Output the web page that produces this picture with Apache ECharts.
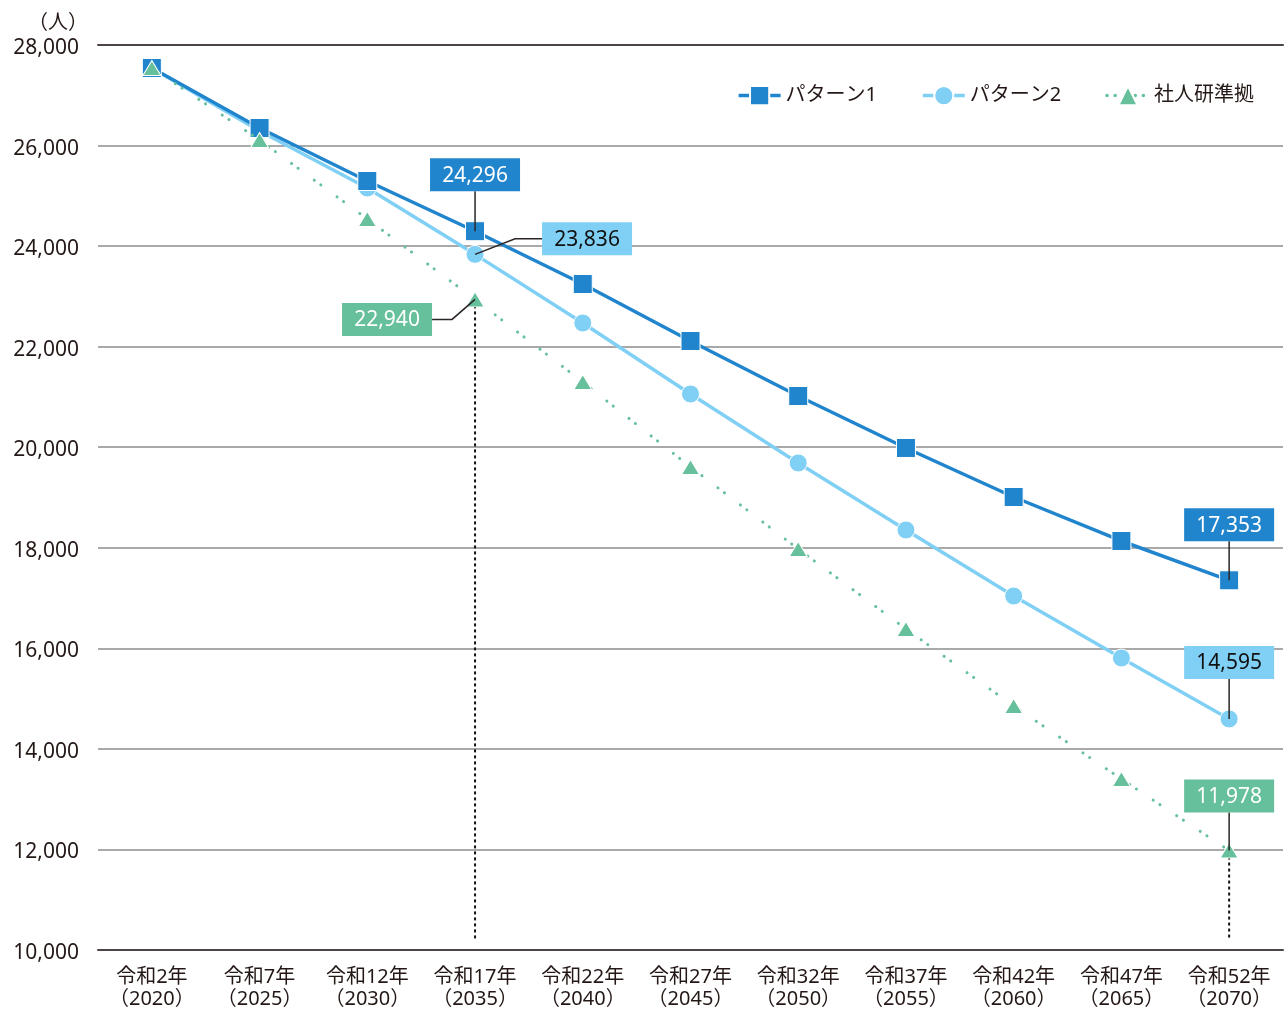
<!DOCTYPE html>
<html>
<head>
<meta charset="utf-8">
<style>
  html, body { margin: 0; padding: 0; background: #fff; }
  #chart { width: 1285px; height: 1010px; }
</style>
<script src="https://cdn.jsdelivr.net/npm/echarts@6/dist/echarts.min.js"></script>
</head>
<body>
<div id="chart"></div>
<script>
// Projected population (persons), every five years 2020–2070
const categories = [
  '令和2年\n（2020）', '令和7年\n（2025）', '令和12年\n（2030）', '令和17年\n（2035）',
  '令和22年\n（2040）', '令和27年\n（2045）', '令和32年\n（2050）', '令和37年\n（2055）',
  '令和42年\n（2060）', '令和47年\n（2065）', '令和52年\n（2070）'
];
const pattern1 = [27543, 26349, 25295, 24296, 23246, 22113, 21019, 19985, 19010, 18135, 17353];
const pattern2 = [27543, 26290, 25156, 23836, 22471, 21059, 19687, 18354, 17041, 15808, 14595];
const ipss     = [27543, 26110, 24539, 22940, 21297, 19607, 17976, 16385, 14853, 13401, 11978];

const seriesNames = ['パターン1', 'パターン2', '社人研準拠'];
const yTicks = { min: 10000, max: 28000, step: 2000 };

const FONT = '"Noto Sans", "Noto Sans CJK JP", sans-serif';
const C1 = '#2185cd';
const C2 = '#80d0f5';
const C3 = '#66c09b';
const TEXT = '#231815';

// Value callouts: which series/point, and where the box sits relative to the point
const values = { p1: pattern1, p2: pattern2, ss: ipss };
const calloutDefs = [
  { key: 'p1', idx: 3,  dx: 0,    dy: -56.5, leader: 'down',  fill: C1, color: '#fff' },
  { key: 'p2', idx: 3,  dx: 112,  dy: -15.5, leader: 'left',  fill: C2, color: '#111' },
  { key: 'ss', idx: 3,  dx: -88,  dy: 20,    leader: 'right', fill: C3, color: '#fff' },
  { key: 'p1', idx: 10, dx: 0,    dy: -55.5, leader: 'down',  fill: C1, color: '#fff' },
  { key: 'p2', idx: 10, dx: 0,    dy: -56.5, leader: 'down',  fill: C2, color: '#111' },
  { key: 'ss', idx: 10, dx: 0,    dy: -54.5, leader: 'down',  fill: C3, color: '#fff' }
];
const calloutData = calloutDefs.map(d => [d.idx, values[d.key][d.idx]]);

// Drop lines from the IPSS-based points
const dropIdx = [3, 10];
const dropData = dropIdx.map(i => [i, ipss[i]]);

const BOX_W = 90, BOX_H = 33;

function renderCallout(params, api) {
  const d = calloutDefs[params.dataIndex];
  const p = api.coord([api.value(0), api.value(1)]);
  const cx = p[0] + d.dx, cy = p[1] + d.dy;
  let pts;
  if (d.leader === 'down') {
    pts = [[p[0], cy + BOX_H / 2], [p[0], p[1]]];
  } else if (d.leader === 'left') {
    pts = [[cx - BOX_W / 2, cy], [p[0] + 40, cy], [p[0], p[1]]];
  } else {
    pts = [[cx + BOX_W / 2, cy], [p[0] - 23, cy], [p[0], p[1]]];
  }
  return {
    type: 'group',
    children: [
      { type: 'polyline', shape: { points: pts },
        style: { stroke: '#2b2525', lineWidth: 1.5, fill: null } },
      { type: 'rect', shape: { x: cx - BOX_W / 2, y: cy - BOX_H / 2, width: BOX_W, height: BOX_H },
        style: { fill: d.fill } },
      { type: 'text', x: cx, y: cy + 1,
        style: { text: api.value(1).toLocaleString('en-US'), fill: d.color,
                 font: '21px ' + FONT, align: 'center', verticalAlign: 'middle' } }
    ]
  };
}

function renderDrop(params, api) {
  const p = api.coord([api.value(0), api.value(1)]);
  const b = api.coord([api.value(0), yTicks.min]);
  return {
    type: 'line',
    shape: { x1: p[0], y1: p[1], x2: b[0], y2: b[1] - 10 },
    style: { stroke: '#111', lineWidth: 2, lineDash: [3, 3] }
  };
}

const chart = echarts.init(document.getElementById('chart'), null, { renderer: 'canvas' });
chart.setOption({
  animation: false,
  backgroundColor: '#fff',
  grid: { left: 98, right: 2, top: 45, bottom: 60, containLabel: false, outerBoundsMode: 'none' },
  legend: {
    data: seriesNames,
    right: 26, top: 80,
    itemWidth: 42, itemHeight: 24, itemGap: 44,
    lineStyle: { width: 3.5 },
    textStyle: { fontFamily: FONT, fontSize: 20, color: TEXT }
  },
  xAxis: [{
    type: 'category',
    data: categories,
    boundaryGap: true,
    axisLine: { lineStyle: { color: '#4d4444', width: 2 } },
    axisTick: { show: false },
    axisLabel: { interval: 0, margin: 16, fontFamily: FONT, fontSize: 20, lineHeight: 22, color: TEXT }
  }, {
    type: 'category',
    data: categories,
    position: 'top',
    axisLine: { lineStyle: { color: '#4d4444', width: 2 } },
    axisTick: { show: false },
    axisLabel: { show: false }
  }],
  yAxis: {
    type: 'value',
    min: yTicks.min, max: yTicks.max, interval: yTicks.step,
    name: '（人）',
    nameLocation: 'end',
    nameGap: 12,
    nameTextStyle: { fontFamily: FONT, fontSize: 20, color: TEXT, align: 'right', padding: [0, 10, 0, 0] },
    axisLine: { show: false },
    axisTick: { show: false },
    axisLabel: { margin: 19, fontFamily: FONT, fontSize: 21, color: TEXT,
                 verticalAlign: 'top', lineHeight: 6,
                 formatter: v => v.toLocaleString('en-US') },
    splitLine: { lineStyle: { color: '#8c8c8c', width: 1.5 } }
  },
  series: [
    {
      type: 'custom', name: 'drop', renderItem: renderDrop, data: dropData,
      z: 1, silent: true, legendHoverLink: false
    },
    {
      name: seriesNames[1], type: 'line', data: pattern2, z: 2,
      symbol: 'circle', symbolSize: 18,
      itemStyle: { color: C2, borderColor: '#fff', borderWidth: 1 },
      lineStyle: { color: C2, width: 3.5 }
    },
    {
      name: seriesNames[0], type: 'line', data: pattern1, z: 3,
      symbol: 'rect', symbolSize: 19,
      itemStyle: { color: C1, borderColor: '#fff', borderWidth: 1 },
      lineStyle: { color: C1, width: 3.5 }
    },
    {
      name: seriesNames[2], type: 'line', data: ipss, z: 4,
      symbol: 'triangle', symbolSize: [18, 15],
      itemStyle: { color: C3, borderColor: '#fff', borderWidth: 1 },
      lineStyle: { color: C3, width: 3, type: [0.1, 8, 0.1, 20], cap: 'round' }
    },
    {
      type: 'custom', name: 'callouts', renderItem: renderCallout, data: calloutData,
      z: 10, silent: true
    }
  ]
});
</script>
</body>
</html>
